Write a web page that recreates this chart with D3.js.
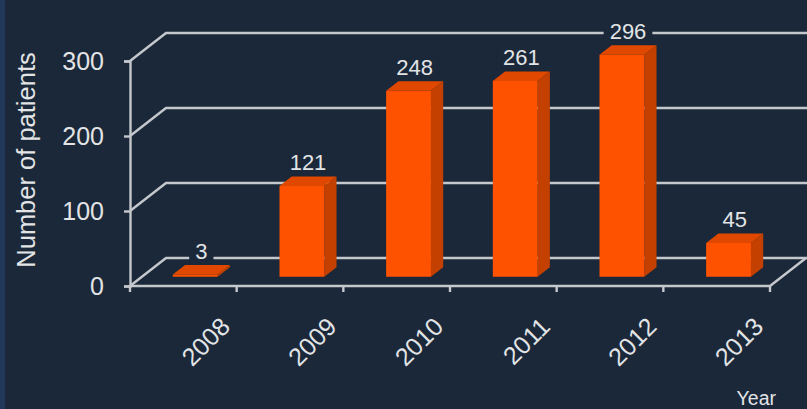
<!DOCTYPE html>
<html>
<head>
<meta charset="utf-8">
<script src="https://cdn.jsdelivr.net/npm/d3@7"></script>
<style>
  html, body { margin: 0; padding: 0; background: #1b2839; }
  svg { display: block; }
  text { font-family: "Liberation Sans", Arial, sans-serif; }
</style>
</head>
<body>
<svg id="chart" width="807" height="409"></svg>
<script>
// Patients per year
const years = ["2008", "2009", "2010", "2011", "2012", "2013"];
const patients = [3, 121, 248, 261, 296, 45];
const yTicks = [0, 100, 200, 300];
const yTitle = "Number of patients";
const xTitle = "Year";

const W = 807, H = 409;
const svg = d3.select("#chart");

// Left edge strip
svg.append("rect").attr("x", 0).attr("y", 0).attr("width", 5).attr("height", H).attr("fill", "#22385a");

// Front plane of the 3D box and its depth offset
const left = 130, right = 770;
const depth = { dx: 36, dy: -28 };
const barFront = 0.33, barBack = 0.67; // bar position within the depth

const x = d3.scaleBand().domain(years).range([left, right]).paddingInner(0.58).paddingOuter(0.29);
const y = d3.scaleLinear().domain([0, 300]).range([286, 61]);

const gridColor = "#c4c8cc";
const textColor = "#e2e4e6";

// Gridlines: front tick -> back wall -> across
const grid = svg.append("g");
yTicks.forEach(v => {
  const y0 = y(v);
  grid.append("path")
    .attr("d", `M${left},${y0} L${left + depth.dx},${y0 + depth.dy} L${W},${y0 + depth.dy}`)
    .attr("fill", "none").attr("stroke", gridColor).attr("stroke-width", 2.4);
});

// Floor front edge and right diagonal
grid.append("path")
  .attr("d", `M${left},${y(0)} L${right},${y(0)} L${right + depth.dx},${y(0) + depth.dy}`)
  .attr("fill", "none").attr("stroke", gridColor).attr("stroke-width", 2.4);

// Y axis line and ticks
const yAxis = d3.axisLeft(y).tickValues(yTicks).tickSize(6).tickPadding(20);
const gy = svg.append("g").attr("transform", `translate(${left},0)`).call(yAxis);
gy.select(".domain").attr("stroke", gridColor).attr("stroke-width", 2.4);
gy.selectAll(".tick line").attr("stroke", gridColor).attr("stroke-width", 2.4);
gy.selectAll(".tick text").attr("fill", textColor).attr("font-size", 25)
  .attr("font-family", "Liberation Sans, Arial, sans-serif");

// X axis ticks at category boundaries
const bounds = d3.range(years.length + 1).map(i => left + i * x.step());
svg.append("g").selectAll("line").data(bounds).join("line")
  .attr("x1", d => d).attr("x2", d => d)
  .attr("y1", y(0)).attr("y2", y(0) + 6)
  .attr("stroke", gridColor).attr("stroke-width", 2.4);

// Bars drawn as 3D boxes
const fx = depth.dx * barFront, fy = depth.dy * barFront;
const bx = depth.dx * (barBack - barFront), by = depth.dy * (barBack - barFront);
const bars = svg.append("g").selectAll("g").data(years.map((yr, i) => ({ yr, v: patients[i] }))).join("g");

bars.each(function (d) {
  const g = d3.select(this);
  const x0 = x(d.yr) + fx, x1 = x0 + x.bandwidth();
  const yb = y(0) + fy, yt = y(d.v) + fy;
  // side face
  g.append("path")
    .attr("d", `M${x1},${yb} L${x1 + bx},${yb + by} L${x1 + bx},${yt + by} L${x1},${yt} Z`)
    .attr("fill", "#c44000");
  // top face
  g.append("path")
    .attr("d", `M${x0},${yt} L${x0 + bx},${yt + by} L${x1 + bx},${yt + by} L${x1},${yt} Z`)
    .attr("fill", "#e04800");
  // front face
  g.append("rect")
    .attr("x", x0).attr("y", yt).attr("width", x1 - x0).attr("height", yb - yt)
    .attr("fill", "#ff5200");
});

// Value labels over each bar with a dark backing
const labels = svg.append("g");
years.forEach((yr, i) => {
  const v = patients[i];
  const cx = x(yr) + fx + x.bandwidth() / 2 + bx / 2;
  const ty = y(v) + fy + by - 6;
  const t = labels.append("text")
    .attr("x", cx).attr("y", ty)
    .attr("text-anchor", "middle")
    .attr("font-size", 22).attr("fill", textColor)
    .text(v);
  const bb = t.node().getBBox();
  labels.insert("rect", () => t.node())
    .attr("x", bb.x - 6).attr("y", bb.y + 2).attr("width", bb.width + 12).attr("height", bb.height - 2)
    .attr("fill", "#1b2839");
});

// Rotated year labels
svg.append("g").selectAll("text").data(years).join("text")
  .attr("transform", d => `translate(${x(d) + x.bandwidth() / 2 + 42},${y(0) + 36}) rotate(-45)`)
  .attr("text-anchor", "end")
  .attr("dy", "0.35em")
  .attr("font-size", 25).attr("fill", textColor)
  .text(d => d);

// Axis titles
svg.append("text")
  .attr("transform", `translate(35,160) rotate(-90)`)
  .attr("text-anchor", "middle")
  .attr("font-size", 25.5).attr("fill", textColor)
  .text(yTitle);

svg.append("text")
  .attr("x", 776).attr("y", 405)
  .attr("text-anchor", "end")
  .attr("font-size", 19.5).attr("fill", textColor)
  .text(xTitle);
</script>
</body>
</html>
